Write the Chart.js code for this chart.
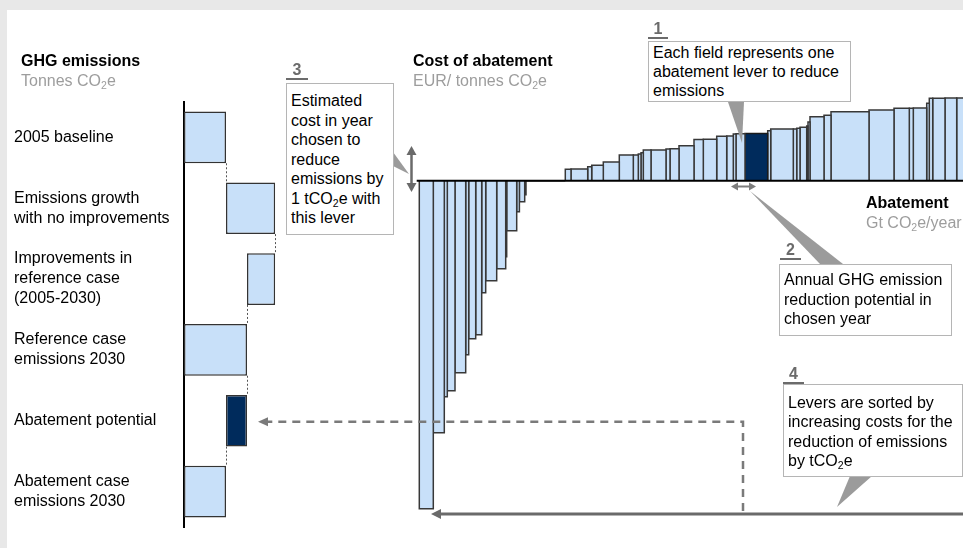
<!DOCTYPE html>
<html>
<head>
<meta charset="utf-8">
<script src="https://cdn.jsdelivr.net/npm/chart.js@4.4.1/dist/chart.umd.min.js"></script>
<style>
  body { margin: 0; background: #e8e8e8; overflow: hidden; font-family: 'Liberation Sans', Arial, sans-serif; }
  #page { position: relative; width: 963px; height: 548px; overflow: hidden; }
  #panel { position: absolute; left: 7px; top: 10px; right: 0; bottom: 0; background: #fff; }
  canvas { position: absolute; left: 0; top: 0; }
  .t { position: absolute; white-space: nowrap; font-size: 16px; line-height: 20px; color: #000; }
  .h { font-weight: bold; font-size: 16px; }
  .g { color: #9d9d9d; }
  .box { position: absolute; box-sizing: border-box; background: #fff; border: 1px solid #b5b5b5;
         font-size: 16px; white-space: nowrap; padding-left: 4px; color: #000; }
  .num { position: absolute; box-sizing: border-box; height: 18px; line-height: 16px; font-weight: bold;
         font-size: 16px; color: #6b6b6b; text-align: center; border-bottom: 2px solid #6b6b6b; }
  sub { font-size: 10.5px; line-height: 0; vertical-align: -3px; }
</style>
</head>
<body>
<div id="page">
  <div id="panel"></div>
  <canvas id="bridge" width="300" height="548"></canvas>
  <canvas id="macc" width="963" height="548"></canvas>

  <div class="t h" style="left:21px;top:51px">GHG emissions</div>
  <div class="t g" style="left:21px;top:71px">Tonnes CO<sub>2</sub>e</div>

  <div class="t h" style="left:413px;top:51px">Cost of abatement</div>
  <div class="t g" style="left:413px;top:71px">EUR/ tonnes CO<sub>2</sub>e</div>

  <div class="t h" style="left:866px;top:193px">Abatement</div>
  <div class="t g" style="left:866px;top:213px">Gt CO<sub>2</sub>e/year</div>

  <div class="num" style="left:286px;top:62px;width:22px">3</div>
  <div class="box" style="left:286px;top:83px;width:108px;height:152px;padding-top:7px;line-height:19.5px">
    Estimated<br>cost in year<br>chosen to<br>reduce<br>emissions by<br>1 tCO<sub>2</sub>e with<br>this lever
  </div>

  <div class="num" style="left:648px;top:21px;width:20px">1</div>
  <div class="box" style="left:648px;top:41px;width:203px;height:61px;padding-top:1px;line-height:19.2px">
    Each field represents one<br>abatement lever to reduce<br>emissions
  </div>

  <div class="num" style="left:780px;top:242px;width:21px">2</div>
  <div class="box" style="left:779px;top:264px;width:173px;height:72px;padding-top:5px;line-height:19.7px">
    Annual GHG emission<br>reduction potential in<br>chosen year
  </div>

  <div class="num" style="left:783px;top:366px;width:21px">4</div>
  <div class="box" style="left:783px;top:384px;width:180px;height:93px;padding-top:8px;line-height:19.4px">
    Levers are sorted by<br>increasing costs for the<br>reduction of emissions<br>by tCO<sub>2</sub>e
  </div>
</div>

<script>
const FONT = "'Liberation Sans', Arial, sans-serif";

// left panel: emissions bridge (tonnes CO2e, relative units)
const bridgeLabels = [
  ['2005 baseline'],
  ['Emissions growth', 'with no improvements'],
  ['Improvements in', 'reference case', '(2005-2030)'],
  ['Reference case', 'emissions 2030'],
  ['Abatement potential'],
  ['Abatement case', 'emissions 2030']
];
const bridgeRanges = [[0, 100], [100, 217], [150, 217], [0, 150], [100, 150], [0, 100]];
const bridgeDark = 4;

// cost curve: lever width (Gt CO2e/year) and cost (EUR/t CO2e), sorted by cost
const leverWidths = [
  0.14, 0.11, 0.03, 0.077, 0.107, 0.03, 0.07, 0.06, 0.04, 0.11, 0.09, 0.01, 0.10, 0.027, 0.053, 0.013,
  0.393,
  0.057, 0.167, 0.04, 0.116, 0.16, 0.14, 0.05, 0.027, 0.023, 0.077, 0.15, 0.04, 0.09, 0.15, 0.093,
  0.134, 0.10, 0.066, 0.027, 0.09, 0.227, 0.03, 0.226, 0.034, 0.033, 0.067, 0.013, 0.02, 0.14, 0.07,
  0.38, 0.25, 0.153, 0.04, 0.134, 0.026, 0.034, 0.123, 0.117, 0.20
];
const leverCosts = [
  -164, -126, -108, -105, -96, -87, -79, -77, -56, -50, -44, -38, -25, -15.5, -10.5, -7,
  0,
  5.7, 5.9, 7, 7.7, 9.3, 12.8, 12.9, 13.3, 14, 15.3, 15.4, 15.8, 16, 17.5, 20.6,
  20.7, 22.2, 22.3, 23.4, 23.5, 23.6, 25, 25.8, 25.9, 26.2, 26.7, 27.4, 29.3, 32, 32.7,
  34.5, 35.3, 36.2, 36.2, 36.3, 38.7, 41.2, 41.2, 41.3, 41.4
];
const darkLever = 37;

const LIGHT = '#c8e0f9';
const DARK = '#002b5c';

// dotted connectors between consecutive bridge bars
const connectors = {
  id: 'connectors',
  afterDatasetsDraw(chart) {
    const ctx = chart.ctx;
    const xs = chart.scales.x;
    const bars = chart.getDatasetMeta(0).data;
    ctx.save();
    ctx.strokeStyle = '#555';
    ctx.lineWidth = 1;
    ctx.setLineDash([2, 2]);
    for (let i = 0; i < bridgeRanges.length - 1; i++) {
      const a = bridgeRanges[i], b = bridgeRanges[i + 1];
      const v = a.find(p => p === b[0] || p === b[1]);
      const px = Math.round(xs.getPixelForValue(v)) + 0.5;
      ctx.beginPath();
      ctx.moveTo(px, bars[i].y + bars[i].height / 2);
      ctx.lineTo(px, bars[i + 1].y - bars[i + 1].height / 2);
      ctx.stroke();
    }
    ctx.restore();
  }
};

new Chart(document.getElementById('bridge'), {
  type: 'bar',
  data: {
    labels: bridgeLabels,
    datasets: [{
      data: bridgeRanges,
      backgroundColor: bridgeRanges.map((r, i) => i === bridgeDark ? DARK : LIGHT),
      borderColor: '#333',
      borderWidth: 1.5,
      borderSkipped: false,
      barPercentage: 0.73,
      categoryPercentage: 1
    }]
  },
  options: {
    indexAxis: 'y',
    responsive: false,
    animation: false,
    events: [],
    layout: { padding: { left: 14, top: 102, bottom: 21, right: 11 } },
    plugins: { legend: { display: false }, tooltip: { enabled: false } },
    scales: {
      x: { display: false, min: 0, max: 250 },
      y: {
        grid: { display: false, drawTicks: false },
        border: { color: '#000', width: 2 },
        ticks: { crossAlign: 'far', color: '#000', padding: 0, font: { family: FONT, size: 16, lineHeight: 1.25 } },
        afterFit(scale) { scale.width = 170; }
      }
    }
  },
  plugins: [connectors]
});

function fillPoly(ctx, pts, color) {
  ctx.fillStyle = color;
  ctx.beginPath();
  ctx.moveTo(pts[0][0], pts[0][1]);
  pts.slice(1).forEach(p => ctx.lineTo(p[0], p[1]));
  ctx.closePath();
  ctx.fill();
}

function line(ctx, x1, y1, x2, y2) {
  ctx.beginPath();
  ctx.moveTo(x1, y1);
  ctx.lineTo(x2, y2);
  ctx.stroke();
}

// zero axis + callouts and arrows
const decorations = {
  id: 'decorations',
  afterDatasetsDraw(chart) {
    const { ctx, chartArea, scales: { y } } = chart;
    const y0 = y.getPixelForValue(0);
    ctx.save();
    ctx.strokeStyle = '#000';
    ctx.lineWidth = 2;
    line(ctx, chartArea.left, y0, chartArea.right, y0);
    ctx.restore();
  },
  afterDraw(chart) {
    const { ctx, chartArea, scales: { x } } = chart;
    const pointer = '#9b9b9b';
    ctx.save();

    // callout pointers
    fillPoly(ctx, [[393, 152], [409, 174], [393, 166]], pointer);
    fillPoly(ctx, [[728, 102], [744, 102], [742, 143]], pointer);
    fillPoly(ctx, [[750, 191], [820, 264], [843, 264]], pointer);
    fillPoly(ctx, [[850, 476], [872, 476], [837, 507]], pointer);

    // vertical double arrow (cost)
    ctx.strokeStyle = '#6a6a6a';
    ctx.lineWidth = 2.5;
    line(ctx, 411.5, 153, 411.5, 185);
    fillPoly(ctx, [[411.5, 146], [406.5, 155], [416.5, 155]], '#6a6a6a');
    fillPoly(ctx, [[411.5, 192], [406.5, 183], [416.5, 183]], '#6a6a6a');

    // horizontal double arrow (width)
    ctx.strokeStyle = '#7d7d7d';
    ctx.lineWidth = 2;
    line(ctx, 737, 186.5, 750, 186.5);
    fillPoly(ctx, [[731, 186.5], [738, 182.5], [738, 190.5]], '#7d7d7d');
    fillPoly(ctx, [[756, 186.5], [749, 182.5], [749, 190.5]], '#7d7d7d');

    // sorted-levers arrow
    const yArrow = 514;
    ctx.strokeStyle = '#6a6a6a';
    ctx.lineWidth = 3;
    line(ctx, chartArea.right, yArrow, 438, yArrow);
    fillPoly(ctx, [[431, yArrow], [441, yArrow - 5], [441, yArrow + 5]], '#6a6a6a');

    // dashed link from highlighted lever to abatement potential
    let start = 0;
    for (let i = 0; i < darkLever; i++) start += leverWidths[i];
    const xd = x.getPixelForValue(start) - 2;
    const yd = 421.7;
    ctx.strokeStyle = '#7a7a7a';
    ctx.lineWidth = 2.5;
    ctx.setLineDash([8, 6]);
    ctx.beginPath();
    ctx.moveTo(xd, yArrow - 3);
    ctx.lineTo(xd, yd);
    ctx.lineTo(268, yd);
    ctx.stroke();
    ctx.setLineDash([]);
    fillPoly(ctx, [[258, yd], [268, yd - 4.5], [268, yd + 4.5]], '#7a7a7a');

    ctx.restore();
  }
};

let cursor = 0;
const leverSets = leverWidths.map((w, i) => {
  const x0 = cursor, x1 = cursor + w;
  cursor = x1;
  const c = leverCosts[i];
  return {
    data: [{ x: x0, y: 0 }, { x: x0, y: c }, { x: x1, y: c }, { x: x1, y: 0 }],
    fill: 'origin',
    backgroundColor: i === darkLever ? DARK : LIGHT,
    borderColor: i === darkLever ? '#1b1b1b' : '#383838',
    borderWidth: 1.5,
    borderJoinStyle: 'miter',
    pointRadius: 0,
    tension: 0
  };
});

new Chart(document.getElementById('macc'), {
  type: 'line',
  data: { datasets: leverSets },
  options: {
    responsive: false,
    animation: false,
    events: [],
    layout: { padding: { left: 416.7, top: 90, bottom: 28, right: 0 } },
    plugins: { legend: { display: false }, tooltip: { enabled: false } },
    scales: {
      x: { type: 'linear', display: false, min: -0.026, max: 5.437 },
      y: { type: 'linear', display: false, min: -169.65, max: 45.35 }
    }
  },
  plugins: [decorations]
});
</script>
</body>
</html>
